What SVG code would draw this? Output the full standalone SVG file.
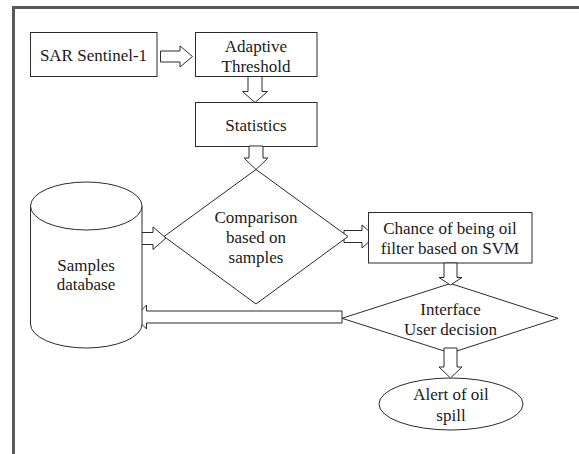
<svg xmlns="http://www.w3.org/2000/svg" width="579" height="454" viewBox="0 0 579 454">
  <style>
    .shape { fill: #ffffff; stroke: #2b2b2b; stroke-width: 1; }
    .arrow { fill: #ffffff; stroke: #2b2b2b; stroke-width: 1; stroke-linejoin: miter; }
    .label { font-size: 17px; fill: #1a1a1a; text-anchor: middle; }
    .frame { fill: none; stroke: #5a5a5a; stroke-width: 3; }
  </style>
  <rect width="579" height="454" fill="#ffffff"/>

  <!-- outer frame (top and left edges) -->
  <path class="frame" d="M13.5,454 V7.5 H579"/>

  <!-- block arrows -->
  <g id="connectors">
    <!-- SAR -> Adaptive Threshold -->
    <path class="arrow" d="M160.5,51 H180 V46 L192.5,56.5 L180,67 V62 H160.5 Z"/>
    <!-- Adaptive Threshold -> Statistics -->
    <path class="arrow" d="M248,76 H262 V91.5 H267.5 L255,102.5 L242.5,91.5 H248 Z"/>
    <!-- Samples database -> Comparison -->
    <path class="arrow" d="M135,232.5 H153 V227 L166,238 L153,249.5 V244.5 H135 Z"/>
    <!-- Comparison -> Chance of being oil -->
    <path class="arrow" d="M344,230.5 H362 V225 L375,236.5 L362,248 V242.5 H344 Z"/>
    <!-- Interface -> Samples database -->
    <path class="arrow" d="M342,311 V323 H146.5 V329 L135,317 L146.5,305 V311 Z"/>
  </g>

  <g font-family="'Liberation Serif', 'Times New Roman', Tinos, 'DejaVu Serif', serif">
  <g id="sar">
    <rect class="shape" x="30.5" y="32.5" width="126.5" height="44"/>
    <text class="label" x="93.5" y="61">SAR Sentinel-1</text>
  </g>

  <g id="adaptive-threshold">
    <rect class="shape" x="195.5" y="32.5" width="121.5" height="44"/>
    <text class="label" x="256" y="52">Adaptive</text>
    <text class="label" x="256" y="71.5">Threshold</text>
  </g>

  <g id="statistics">
    <rect class="shape" x="195.5" y="102.5" width="121.5" height="44"/>
    <text class="label" x="256" y="130.5">Statistics</text>
  </g>

  <g id="samples-database">
    <path class="shape" d="M30.5,206 V324 A55.75,24 0 0 0 142,324 V206"/>
    <ellipse class="shape" cx="86.25" cy="206" rx="55.75" ry="24"/>
    <text class="label" x="86" y="270.5">Samples</text>
    <text class="label" x="86" y="290">database</text>
  </g>

  <g id="comparison">
    <polygon class="shape" points="256,169.5 348,236.5 256,304 164,236.5"/>
    <text class="label" x="256" y="222.5">Comparison</text>
    <text class="label" x="256" y="242.5">based on</text>
    <text class="label" x="256" y="262.5">samples</text>
  </g>

  <g id="svm-filter">
    <rect class="shape" x="368.5" y="212.5" width="163.5" height="50.5"/>
    <text class="label" x="450" y="233.5">Chance of being oil</text>
    <text class="label" x="450" y="253.5">filter based on SVM</text>
  </g>

  <g id="user-decision">
    <polygon class="shape" points="450.5,283.5 558,318.3 450.5,353 342,318.3"/>
    <text class="label" x="450.5" y="315">Interface</text>
    <text class="label" x="450.5" y="335">User decision</text>
  </g>

  <g id="oil-spill-alert">
    <ellipse class="shape" cx="451" cy="404" rx="72" ry="26"/>
    <text class="label" x="451" y="400">Alert of oil</text>
    <text class="label" x="451" y="420.5">spill</text>
  </g>
  </g>

  <!-- vertical arrows drawn over the diamond tips they touch -->
  <g id="connectors-vertical">
    <!-- Statistics -> Comparison -->
    <path class="arrow" d="M249,146 H263 V158 H268 L256,169.5 L244,158 H249 Z"/>
    <!-- Chance of being oil -> Interface -->
    <path class="arrow" d="M444,263 H457 V277.5 H462 L450.5,285 L439,277.5 H444 Z"/>
    <!-- Interface -> Alert of oil spill -->
    <path class="arrow" d="M444,348 H457 V367 H462 L450.5,378 L439,367 H444 Z"/>
  </g>
</svg>
